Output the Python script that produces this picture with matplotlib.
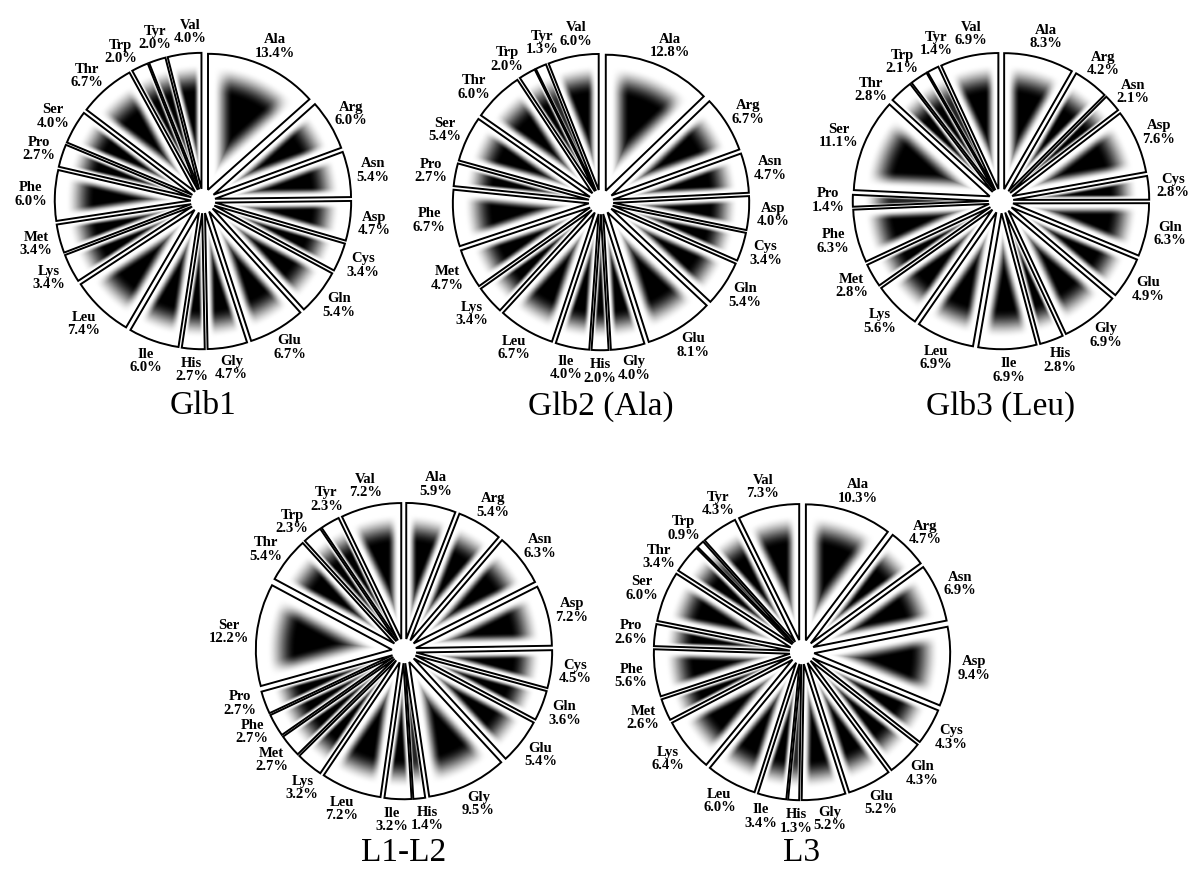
import numpy as np
import matplotlib
matplotlib.use('Agg')
import matplotlib.pyplot as plt

# amino acid composition (%), clockwise from 12 o'clock
amino = ['Ala', 'Arg', 'Asn', 'Asp', 'Cys', 'Gln', 'Glu', 'Gly', 'His', 'Ile',
         'Leu', 'Lys', 'Met', 'Phe', 'Pro', 'Ser', 'Thr', 'Trp', 'Tyr', 'Val']

glb1 = [13.4, 6.0, 5.4, 4.7, 3.4, 5.4, 6.7, 4.7, 2.7, 6.0, 7.4, 3.4, 3.4, 6.0, 2.7, 4.0, 6.7, 2.0, 2.0, 4.0]
glb2 = [12.8, 6.7, 4.7, 4.0, 3.4, 5.4, 8.1, 4.0, 2.0, 4.0, 6.7, 3.4, 4.7, 6.7, 2.7, 5.4, 6.0, 2.0, 1.3, 6.0]
glb3 = [8.3, 4.2, 2.1, 7.6, 2.8, 6.3, 4.9, 6.9, 2.8, 6.9, 6.9, 5.6, 2.8, 6.3, 1.4, 11.1, 2.8, 2.1, 1.4, 6.9]
l1l2 = [5.9, 5.4, 6.3, 7.2, 4.5, 3.6, 5.4, 9.5, 1.4, 3.2, 7.2, 3.2, 2.7, 2.7, 2.7, 12.2, 5.4, 2.3, 2.3, 7.2]
l3 = [10.3, 4.7, 6.9, 9.4, 4.3, 4.3, 5.2, 5.2, 1.3, 3.4, 6.0, 6.4, 2.6, 5.6, 2.6, 6.0, 3.4, 0.9, 4.3, 7.3]

titles = ['Glb1', 'Glb2 (Ala)', 'Glb3 (Leu)', 'L1-L2', 'L3']
series = [glb1, glb2, glb3, l1l2, l3]

# pie centres in pixels (from top-left) and title heights
centres = [(203, 201), (601, 202), (1001, 201), (404, 651), (802, 652)]
title_y = [406, 406, 406, 853, 853]

W, H = 1191, 876
PX = 136.0           # pixels per unit radius
BOX = 400            # axes size in px
L = BOX / 2 / PX
EXPLODE = 0.09

fig = plt.figure(figsize=(W / 100, H / 100), dpi=100)
fig.patch.set_facecolor('white')
renderer = fig.canvas.get_renderer()

N = 700
g = np.linspace(-L, L, N)
X, Y = np.meshgrid(g, g)


def smooth(x, lo, hi):
    s = np.clip((x - lo) / (hi - lo), 0, 1)
    return s * s * (3 - 2 * s)


def shade(wedges):
    # grey "burst" fill: white along the wedge borders, black in the middle
    img = np.full(X.shape, np.nan)
    for w in wedges:
        cx, cy = w.center
        R = w.r
        t1 = w.theta1
        span = w.theta2 - w.theta1
        dx, dy = X - cx, Y - cy
        r = np.hypot(dx, dy)
        a = (np.degrees(np.arctan2(dy, dx)) - t1) % 360
        inside = (r < R) & (a <= span)
        h = np.radians(span / 2)
        amin = np.radians(np.minimum(a, span - a))
        d_edge = r * np.sin(amin)
        t_e = d_edge / (0.47 * R * np.sin(h))
        t_a = (R - r) / (0.31 * R)
        dark = smooth(t_e, 0.2, 0.95) * smooth(t_a, 0.25, 0.95)
        strength = min(1.0, 0.55 + span / 16)
        img[inside] = 1 - strength * dark[inside]
    return img


for vals, title, (cx, cy), ty in zip(series, titles, centres, title_y):
    ax = fig.add_axes([(cx - BOX / 2) / W, 1 - (cy + BOX / 2) / H, BOX / W, BOX / H])
    wedges, _ = ax.pie(vals, explode=[EXPLODE] * len(vals), startangle=90,
                       counterclock=False, radius=1,
                       wedgeprops=dict(fill=False, edgecolor='black', linewidth=1.4, zorder=3))
    ax.imshow(shade(wedges), cmap='gray', vmin=0, vmax=1, extent=(-L, L, -L, L),
              origin='lower', interpolation='bilinear', zorder=1)
    ax.set_xlim(-L, L)
    ax.set_ylim(-L, L)
    ax.set_aspect('equal')
    ax.axis('off')

    # labels
    texts, hw, hh, ang = [], [], [], []
    for w, name, v in zip(wedges, amino, vals):
        t = ax.text(0, 0, f'{name}\n{v:.1f}%', ha='center', va='center', ma='center',
                    fontsize=10.5, fontweight='bold', family='Liberation Serif',
                    linespacing=1.05, zorder=4)
        bb = t.get_window_extent(renderer)
        texts.append(t)
        hw.append(bb.width / 2 / PX)
        hh.append(bb.height / 2 / PX)
        ang.append((w.theta1 + w.theta2) / 2)
    ang = np.array(ang)
    base = 1 + EXPLODE + 8 / PX

    def pos(i):
        ux, uy = np.cos(np.radians(ang[i])), np.sin(np.radians(ang[i]))
        return base * ux + ux * hw[i], base * uy + uy * hh[i]

    n = len(vals)
    m = 1 / PX
    for _ in range(400):
        moved = False
        for i in range(n):
            j = (i + 1) % n
            xi, yi = pos(i)
            xj, yj = pos(j)
            if abs(xi - xj) < hw[i] + hw[j] + m and abs(yi - yj) < hh[i] + hh[j] + m:
                ang[i] += 0.3
                ang[j] -= 0.3
                moved = True
        if not moved:
            break
    for i, t in enumerate(texts):
        t.set_position(pos(i))

    fig.text(cx / W, 1 - ty / H, title, ha='center', va='center',
             fontsize=24, family='Liberation Serif')

fig.savefig('out.png', dpi=100, facecolor='white')
